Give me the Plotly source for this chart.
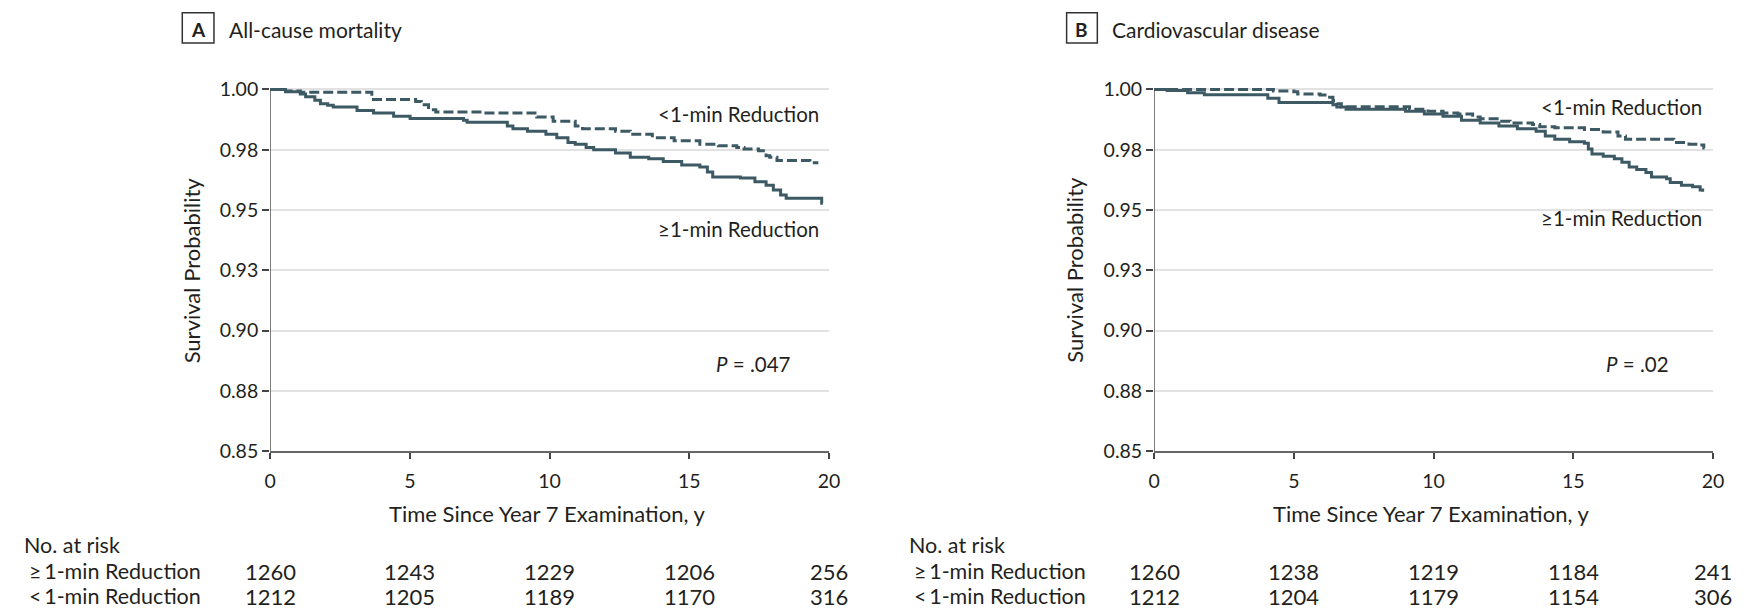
import plotly.graph_objects as go

# ---------------- data ----------------
a_ge_t = [0, 0.55, 1.08, 1.27, 1.60, 1.80, 2.06, 2.26, 3.11, 3.70, 4.42, 5.01, 6.92, 7.05, 8.49, 8.69, 9.21, 9.87,
          10.26, 10.66, 10.92, 11.31, 11.58, 12.36, 12.89, 13.55, 14.07, 14.73, 15.38, 15.65, 15.84, 16.83, 17.35,
          17.75, 18.01, 18.27, 18.47, 19.74, 19.78]
a_ge_s = [1.000, 0.9990, 0.9981, 0.9970, 0.9955, 0.9940, 0.9934, 0.9927, 0.9913, 0.9902, 0.9889, 0.9879, 0.9872,
          0.9864, 0.9848, 0.9837, 0.9827, 0.9814, 0.9800, 0.9780, 0.9773, 0.9759, 0.9750, 0.9736, 0.9719, 0.9712,
          0.9701, 0.9687, 0.9678, 0.9658, 0.9637, 0.9633, 0.9617, 0.9603, 0.9583, 0.9562, 0.9549, 0.9528, 0.9528]

a_lt_t = [0, 0.55, 1.08, 3.64, 5.21, 5.41, 5.67, 5.93, 7.64, 9.54, 10.13, 10.92, 11.18, 12.36, 12.89, 13.68, 14.46,
          15.38, 16.04, 16.70, 16.96, 17.48, 17.75, 17.88, 18.14, 19.32, 19.62]
a_lt_s = [1.000, 0.9993, 0.9988, 0.9958, 0.9950, 0.9936, 0.9916, 0.9906, 0.9902, 0.9886, 0.9868, 0.9848, 0.9837,
          0.9827, 0.9814, 0.9800, 0.9787, 0.9773, 0.9766, 0.9759, 0.9753, 0.9746, 0.9725, 0.9719, 0.9705, 0.9696,
          0.9696]

b_ge_t = [0, 0.47, 1.20, 1.80, 4.07, 4.47, 6.40, 6.54, 6.87, 9.00, 9.67, 10.34, 11.00, 11.67, 12.34, 13.00, 13.67,
          14.00, 14.34, 14.87, 15.40, 15.54, 15.67, 16.07, 16.47, 16.74, 17.00, 17.27, 17.60, 17.80, 18.34, 18.47,
          18.87, 19.27, 19.54, 19.63]
b_ge_s = [1.0000, 0.9995, 0.9986, 0.9978, 0.9963, 0.9946, 0.9936, 0.9927, 0.9918, 0.9909, 0.9898, 0.9889, 0.9872,
          0.9861, 0.9848, 0.9837, 0.9827, 0.9807, 0.9793, 0.9783, 0.9777, 0.9753, 0.9732, 0.9723, 0.9712, 0.9698,
          0.9678, 0.9668, 0.9655, 0.9637, 0.9630, 0.9614, 0.9603, 0.9596, 0.9583, 0.9576]

b_lt_t = [0, 4.27, 5.00, 5.14, 5.94, 6.20, 6.40, 6.54, 6.70, 9.14, 9.80, 10.34, 10.87, 11.40, 11.67, 12.34, 12.74,
          13.54, 13.80, 14.34, 15.40, 16.07, 16.60, 16.87, 18.60, 19.14, 19.54, 19.67, 19.70]
b_lt_s = [1.0000, 0.9993, 0.9990, 0.9981, 0.9977, 0.9967, 0.9954, 0.9940, 0.9928, 0.9918, 0.9909, 0.9902, 0.9898,
          0.9886, 0.9878, 0.9868, 0.9861, 0.9855, 0.9845, 0.9841, 0.9834, 0.9823, 0.9807, 0.9793, 0.9780, 0.9773,
          0.9769, 0.9757, 0.9757]

risk_times = [0, 5, 10, 15, 20]
risk_a_ge = [1260, 1243, 1229, 1206, 256]
risk_a_lt = [1212, 1205, 1189, 1170, 316]
risk_b_ge = [1260, 1238, 1219, 1184, 241]
risk_b_lt = [1212, 1204, 1179, 1154, 306]

x_ticks = [0, 5, 10, 15, 20]
y_tickvals = [0.85, 0.875, 0.90, 0.925, 0.95, 0.975, 1.00]
y_ticktext = ["0.85", "0.88", "0.90", "0.93", "0.95", "0.98", "1.00"]

panel_letters = ["A", "B"]
panel_titles = ["All-cause mortality", "Cardiovascular disease"]
p_values = ["<i>P</i> = .047", "<i>P</i> = .02"]
label_lt = "<1-min Reduction"
label_ge = "≥1-min Reduction"
row_ge = "≥\u20091-min Reduction"
row_lt = "<\u20091-min Reduction"

# ---------------- layout helpers ----------------
W, H = 1755, 611
FONT = "Lato, 'Noto Sans', sans-serif"
TXT = "#231f20"
LINE = "#3d5a64"
GRID = "#e2e2e2"


def px(x):
    return x / W


def py(y):
    return 1 - y / H


y_top_val = 1.004
y_bot_px, y_one_px = 459.0, 89.3
ppu = (y_bot_px - y_one_px) / 0.15
y_top_px = y_bot_px - (y_top_val - 0.85) * ppu
ydom = [py(y_bot_px), py(y_top_px)]

xdoms = [[px(266.7), px(831.0)], [px(1159.3), px(1723.7)]]

fig = go.Figure()

curves = [(a_ge_t, a_ge_s, a_lt_t, a_lt_s), (b_ge_t, b_ge_s, b_lt_t, b_lt_s)]
for i, (gt, gs, lt, ls) in enumerate(curves):
    xa = "x" if i == 0 else "x2"
    ya = "y" if i == 0 else "y2"
    fig.add_trace(go.Scatter(x=lt, y=ls, mode="lines", line=dict(color=LINE, width=3, dash="10px,4px", shape="hv"),
                             xaxis=xa, yaxis=ya, showlegend=False, hoverinfo="skip"))
    fig.add_trace(go.Scatter(x=gt, y=gs, mode="lines", line=dict(color=LINE, width=3, shape="hv"),
                             xaxis=xa, yaxis=ya, showlegend=False, hoverinfo="skip"))

TICK_SIZE = 19.5
axis_common_x = dict(range=[0, 20], tickvals=x_ticks, ticks="outside", ticklen=6, tickwidth=1.5, tickcolor="#444",
                     showline=True, linecolor="#666", linewidth=2, showgrid=False, zeroline=False,
                     ticklabelstandoff=5,
                     tickfont=dict(family=FONT, size=TICK_SIZE, color=TXT), fixedrange=True)
axis_common_y = dict(range=[0.85, y_top_val], tickvals=y_tickvals, ticktext=y_ticktext, ticks="outside", ticklen=7,
                     tickwidth=1.5, tickcolor="#444", showline=False, showgrid=True, gridcolor=GRID, gridwidth=2,
                     zeroline=False, tickfont=dict(family=FONT, size=TICK_SIZE, color=TXT), fixedrange=True)

fig.update_layout(
    xaxis=dict(domain=xdoms[0], anchor="y", **axis_common_x),
    yaxis=dict(domain=ydom, anchor="x", **axis_common_y),
    xaxis2=dict(domain=xdoms[1], anchor="y2", **axis_common_x),
    yaxis2=dict(domain=ydom, anchor="x2", **axis_common_y),
)

box_x = [(178.0, 210.0), (1071.0, 1102.0)]
box_y = (11.0, 42.0)
shapes = []
for i in range(2):
    xr = "x" if i == 0 else "x2"
    yr = "y" if i == 0 else "y2"
    shapes.append(dict(type="line", xref=xr, yref=yr, x0=0, x1=0, y0=0.85, y1=1.0,
                       line=dict(color="#555", width=1.5), layer="above"))
    shapes.append(dict(type="rect", xref="paper", yref="paper", x0=px(box_x[i][0]), x1=px(box_x[i][1]),
                       y0=py(box_y[1]), y1=py(box_y[0]), line=dict(color="#333", width=1.5),
                       fillcolor="rgba(0,0,0,0)"))
fig.update_layout(shapes=shapes)

ann = []
title_x = [223.0, 1115.0]
ytitle_x = [187.0, 1079.0]
risk_label_x = [16.0, 910.0]
p_right = [795.0, 1681.0]
lt_lab = [(823.0, 114.3), (1715.0, 107.3)]
ge_lab = [(823.0, 232.0), (1715.0, 221.0)]
risks = [(risk_a_ge, risk_a_lt), (risk_b_ge, risk_b_lt)]

TITLE_SIZE = 21
BOX_SIZE = 19
AXT_SIZE = 22
LAB_SIZE = 20.5
RISK_SIZE = 21.5
NUM_SIZE = 22

# anchor rows (pixel from top) tuned so glyphs land where they sit in the reference
Y_TITLE = 28.0
Y_BOX = 28.0
Y_P = 369.5
Y_XTITLE = 522.5
Y_RISK_HEAD = 555.0
Y_RISK_1 = 581.5
Y_RISK_2 = 607.0

for i in range(2):
    xr = "x" if i == 0 else "x2"
    ann.append(dict(xref="paper", yref="paper", x=px((box_x[i][0] + box_x[i][1]) / 2), y=py(Y_BOX),
                    xanchor="center", yanchor="middle", text="<b>%s</b>" % panel_letters[i], showarrow=False,
                    font=dict(family=FONT, size=BOX_SIZE, color=TXT)))
    ann.append(dict(xref="paper", yref="paper", x=px(title_x[i]), y=py(Y_TITLE), xanchor="left",
                    yanchor="middle", text=panel_titles[i], showarrow=False,
                    font=dict(family=FONT, size=TITLE_SIZE, color=TXT)))
    ann.append(dict(xref="paper", yref="paper", x=px(ytitle_x[i]), y=py(274), xanchor="center", yanchor="middle",
                    text="Survival Probability", textangle=-90, showarrow=False,
                    font=dict(family=FONT, size=AXT_SIZE, color=TXT)))
    ann.append(dict(xref="paper", yref="paper", x=(xdoms[i][0] + xdoms[i][1]) / 2 - px(3), y=py(Y_XTITLE),
                    xanchor="center", yanchor="middle", text="Time Since Year 7 Examination, y", showarrow=False,
                    font=dict(family=FONT, size=AXT_SIZE, color=TXT)))
    ann.append(dict(xref="paper", yref="paper", x=px(lt_lab[i][0]), y=py(lt_lab[i][1]), xanchor="right",
                    yanchor="middle", text=label_lt, showarrow=False, font=dict(family=FONT, size=LAB_SIZE, color=TXT)))
    ann.append(dict(xref="paper", yref="paper", x=px(ge_lab[i][0]), y=py(ge_lab[i][1]), xanchor="right",
                    yanchor="middle", text=label_ge, showarrow=False, font=dict(family=FONT, size=LAB_SIZE, color=TXT)))
    ann.append(dict(xref="paper", yref="paper", x=px(p_right[i]), y=py(Y_P), xanchor="right",
                    yanchor="middle", text=p_values[i], showarrow=False,
                    font=dict(family=FONT, size=LAB_SIZE, color=TXT)))
    ann.append(dict(xref="paper", yref="paper", x=px(risk_label_x[i]), y=py(Y_RISK_HEAD), xanchor="left",
                    yanchor="middle", text="No. at risk", showarrow=False,
                    font=dict(family=FONT, size=RISK_SIZE, color=TXT)))
    ann.append(dict(xref="paper", yref="paper", x=px(risk_label_x[i] + 5), y=py(Y_RISK_1), xanchor="left",
                    yanchor="middle", text=row_ge, showarrow=False, font=dict(family=FONT, size=RISK_SIZE, color=TXT)))
    ann.append(dict(xref="paper", yref="paper", x=px(risk_label_x[i] + 5), y=py(Y_RISK_2), xanchor="left",
                    yanchor="middle", text=row_lt, showarrow=False, font=dict(family=FONT, size=RISK_SIZE, color=TXT)))
    ge_vals, lt_vals = risks[i]
    for t, g, l in zip(risk_times, ge_vals, lt_vals):
        ann.append(dict(xref=xr, yref="paper", x=t, y=py(Y_RISK_1), xanchor="center", yanchor="middle",
                        text=str(g), showarrow=False, font=dict(family=FONT, size=NUM_SIZE, color=TXT)))
        ann.append(dict(xref=xr, yref="paper", x=t, y=py(Y_RISK_2), xanchor="center", yanchor="middle",
                        text=str(l), showarrow=False, font=dict(family=FONT, size=NUM_SIZE, color=TXT)))

fig.update_layout(annotations=ann, width=W, height=H, autosize=False,
                  margin=dict(l=0, r=0, t=0, b=0, pad=0),
                  paper_bgcolor="white", plot_bgcolor="white",
                  font=dict(family=FONT, size=18, color=TXT))

fig.write_html("out.html", config={"displayModeBar": False})
